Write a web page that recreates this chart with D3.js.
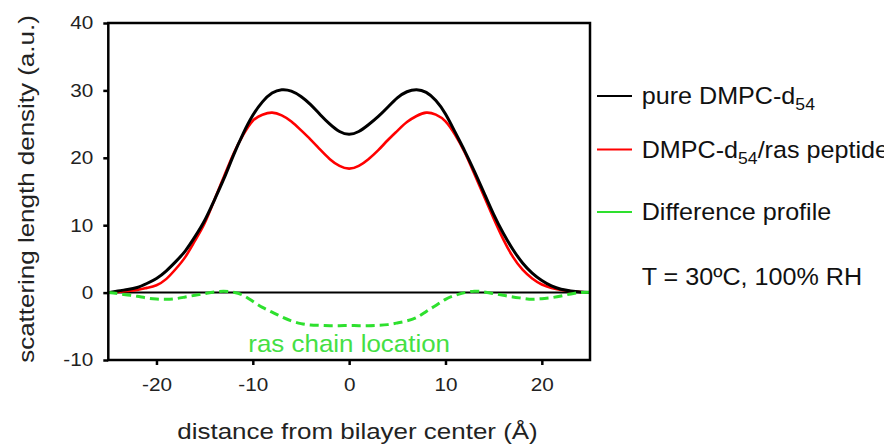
<!DOCTYPE html>
<html>
<head>
<meta charset="utf-8">
<script src="https://cdn.jsdelivr.net/npm/d3@7"></script>
<style>
  html, body { margin: 0; padding: 0; background: #fff; }
  svg { display: block; }
  text { font-family: "Liberation Sans", Arial, Helvetica, sans-serif; }
</style>
</head>
<body>
<svg id="chart" width="884" height="446"></svg>
<script>
// Distance from bilayer centre (Å)
const distance = d3.range(-25, 26, 1);

// Scattering length density profiles (a.u.)
const pureDMPC = [
  0.0, 0.25, 0.45, 0.75, 1.35, 2.1, 3.2, 4.6, 6.2, 8.3,
  10.7, 13.7, 16.9, 20.4, 23.6, 26.3, 28.3, 29.6, 30.1, 29.9,
  29.1, 27.9, 26.4, 25.0, 23.9, 23.5,
  23.9, 24.9, 26.1, 27.5, 28.9, 29.8, 30.1, 29.7, 28.5, 26.5,
  23.8, 21.0, 18.0, 14.8, 11.6, 8.8, 6.4, 4.4, 2.9, 1.8,
  1.0, 0.5, 0.25, 0.1, 0.0
];
const withRas = [
  0.0, 0.1, 0.25, 0.4, 0.7, 1.1, 2.0, 3.5, 5.3, 7.7,
  10.3, 13.7, 17.2, 20.6, 23.4, 25.5, 26.4, 26.7, 26.3, 25.4,
  24.1, 22.7, 21.2, 19.8, 18.8, 18.4,
  18.8, 19.8, 21.1, 22.6, 24.0, 25.3, 26.2, 26.7, 26.4, 25.4,
  23.4, 20.8, 17.6, 14.3, 11.0, 7.9, 5.3, 3.4, 2.1, 1.2,
  0.7, 0.4, 0.2, 0.1, 0.0
];
const difference = [
  0.0, -0.15, -0.35, -0.55, -0.8, -0.95, -1.0, -0.9, -0.65, -0.4,
  -0.15, 0.1, 0.2, 0.05, -0.4, -1.3, -2.2, -2.9, -3.6, -4.2,
  -4.6, -4.8, -4.85, -4.9, -4.9, -4.9,
  -4.9, -4.9, -4.85, -4.75, -4.5, -4.2, -3.7, -2.8, -1.9, -1.0,
  -0.4, 0.0, 0.2, 0.1, -0.15, -0.4, -0.65, -0.85, -1.0, -0.9,
  -0.75, -0.5, -0.2, 0.0, 0.05
];

const xTicks = [-20, -10, 0, 10, 20];
const yTicks = [-10, 0, 10, 20, 30, 40];

const seriesNames = ["pure DMPC-d", "DMPC-d", "Difference profile"];
const seriesColors = ["#000000", "#ff0000", "#2ee02e"];

const svg = d3.select("#chart");
const margin = { left: 108.3, right: 294, top: 23, bottom: 86 };
const W = 884, H = 446;

const x = d3.scaleLinear().domain([-25, 25]).range([margin.left, W - margin.right]);
const y = d3.scaleLinear().domain([-10, 40]).range([H - margin.bottom, margin.top]);

// Helper for horizontally widened text
function label(parent, str, px, py, size, sx, anchor, extra) {
  return parent.append("text")
    .attr("transform", `translate(${px},${py})${extra || ""} scale(${sx},1)`)
    .attr("font-size", size)
    .attr("text-anchor", anchor || "start")
    .text(str);
}

// Zero baseline
svg.append("line")
  .attr("x1", x(-25)).attr("x2", x(25))
  .attr("y1", y(0)).attr("y2", y(0))
  .attr("stroke", "#000").attr("stroke-width", 2);

const pts = arr => distance.map((d, i) => [d, arr[i]]);
const line = d3.line().x(d => x(d[0])).y(d => y(d[1])).curve(d3.curveNatural);

svg.append("path").attr("d", line(pts(withRas)))
  .attr("fill", "none").attr("stroke", seriesColors[1]).attr("stroke-width", 2.6);
svg.append("path").attr("d", line(pts(pureDMPC)))
  .attr("fill", "none").attr("stroke", seriesColors[0]).attr("stroke-width", 3);
svg.append("path").attr("d", line(pts(difference)))
  .attr("fill", "none").attr("stroke", seriesColors[2]).attr("stroke-width", 3)
  .attr("stroke-dasharray", "9,5");

// Plot frame
svg.append("rect")
  .attr("x", x(-25)).attr("y", y(40))
  .attr("width", x(25) - x(-25)).attr("height", y(-10) - y(40))
  .attr("fill", "none").attr("stroke", "#000").attr("stroke-width", 2.5);

// Axes
const tickSX = 1.12;
const fmt = d => String(d);
const gx = svg.append("g").attr("transform", `translate(0,${y(-10)})`)
  .call(d3.axisBottom(x).tickValues(xTicks).tickSize(5).tickSizeOuter(0).tickFormat(fmt));
gx.select(".domain").remove();
gx.selectAll("line").attr("stroke-width", 2.5);
gx.selectAll("text")
  .attr("font-family", "Liberation Sans, Arial, sans-serif")
  .attr("font-size", 18.5).attr("fill", "#222")
  .attr("dy", null).attr("y", 31)
  .attr("transform", `scale(${tickSX},1)`);

const gy = svg.append("g").attr("transform", `translate(${x(-25)},0)`)
  .call(d3.axisLeft(y).tickValues(yTicks).tickSize(5).tickSizeOuter(0).tickFormat(fmt));
gy.select(".domain").remove();
gy.selectAll("line").attr("stroke-width", 2.5);
gy.selectAll("text")
  .attr("font-family", "Liberation Sans, Arial, sans-serif")
  .attr("font-size", 18.5).attr("fill", "#222")
  .attr("x", -15 / tickSX)
  .attr("transform", `scale(${tickSX},1)`);

// Axis titles
label(svg, "distance from bilayer center (Å)", 357.5, 439, 22, 1.18, "middle").attr("fill", "#222");
label(svg, "scattering length density (a.u.)", 34, 189, 22, 1.18, "middle", " rotate(-90)").attr("fill", "#222");

// In-plot annotation
label(svg, "ras chain location", x(0), 351.5, 24, 1.08, "middle").attr("fill", "#44e044");

// Legend
const legX = 597, legTextX = 641.7, legSize = 23.5, legSX = 1.07;
const legY = [96, 149.5, 212];
const legBase = [104, 157.5, 220];

function withSub(t, main, sub, after) {
  t.text(null);
  t.append("tspan").text(main);
  t.append("tspan").attr("font-size", legSize * 0.7).attr("dy", 6).text(sub);
  if (after) t.append("tspan").attr("dy", -6).text(after);
}

legY.forEach((ly, i) => {
  svg.append("line").attr("x1", legX).attr("x2", legX + 35)
    .attr("y1", ly).attr("y2", ly)
    .attr("stroke", seriesColors[i]).attr("stroke-width", 2);
});
const l0 = label(svg, "", legTextX, legBase[0], legSize, legSX).attr("fill", "#111");
withSub(l0, seriesNames[0], "54");
const l1 = label(svg, "", legTextX, legBase[1], legSize, legSX).attr("fill", "#111");
withSub(l1, seriesNames[1], "54", "/ras peptide");
label(svg, seriesNames[2], legTextX, legBase[2], legSize, legSX).attr("fill", "#111");
label(svg, "T = 30ºC, 100% RH", legTextX, 285, legSize, legSX).attr("fill", "#111");
</script>
</body>
</html>
